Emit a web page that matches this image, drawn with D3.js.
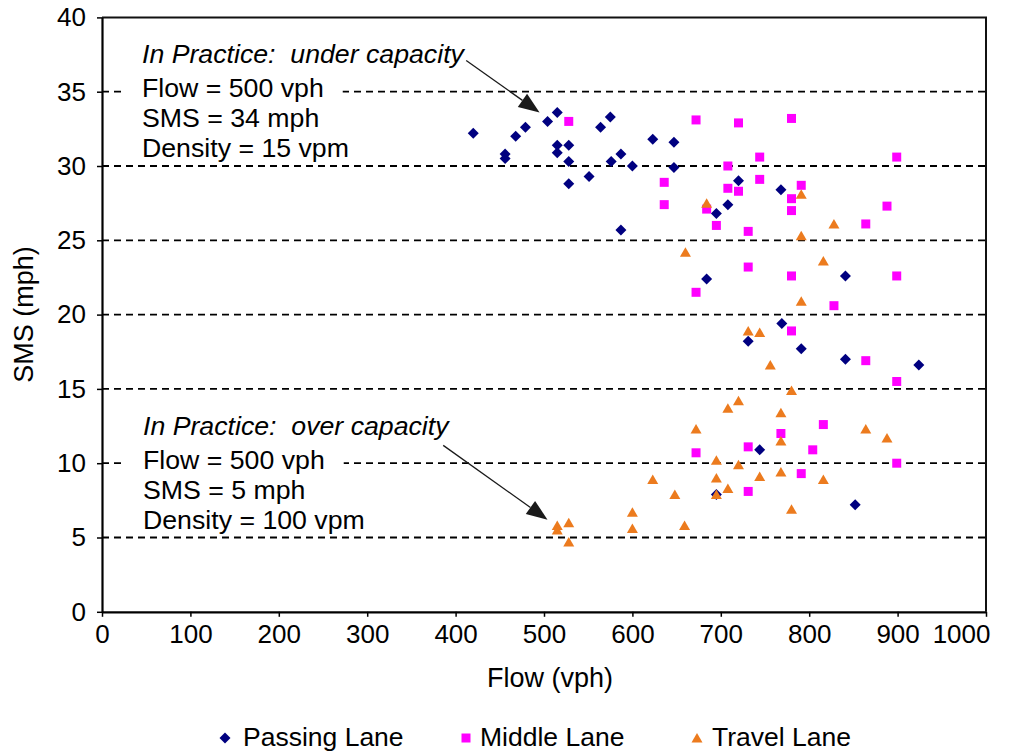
<!DOCTYPE html>
<html><head><meta charset="utf-8">
<script src="https://cdn.jsdelivr.net/npm/d3@7"></script>
<style>
html,body{margin:0;padding:0;background:#fff;}
text{font-family:"Liberation Sans",Arial,sans-serif;fill:#000;white-space:pre;}
</style></head>
<body><svg id="chart" width="1019" height="751"></svg>
<script>
// ---- data ----
const xTicks = [0,100,200,300,400,500,600,700,800,900,1000];
const yTicks = [0,5,10,15,20,25,30,35,40];
const gridValues = [5,10,15,20,25,30,35];
const seriesNames = ["Passing Lane","Middle Lane","Travel Lane"];
const passingLane = [
 [420,32.2],[456,30.8],[456,30.5],[468,32.0],[479,32.6],[504,33.0],[515,33.6],[515,31.4],[515,30.9],
 [528,31.4],[528,30.3],[528,28.8],[551,29.3],[564,32.6],[575,33.3],[576,30.3],[587,30.8],[600,30.0],
 [623,31.8],[647,31.6],[647,29.9],[587,25.7],[720,29.0],[768,28.4],[708,27.4],[695,26.8],[684,22.4],
 [841,22.6],[769,19.4],[731,18.2],[791,17.7],[841,17.0],[924,16.6],[744,10.9],[695,7.9],[852,7.2]
];
const middleLane = [
 [528,33.0],[672,33.1],[720,32.9],[780,33.2],[744,30.6],[899,30.6],[708,30.0],[636,28.9],[744,29.1],
 [791,28.7],[708,28.5],[720,28.3],[780,27.8],[636,27.4],[780,27.0],[684,27.1],[888,27.3],[695,26.0],
 [731,25.6],[864,26.1],[731,23.2],[780,22.6],[899,22.6],[672,21.5],[828,20.6],[780,18.9],[864,16.9],
 [899,15.5],[816,12.6],[768,12.0],[731,11.1],[804,10.9],[672,10.7],[899,10.0],[791,9.3],[731,8.1]
];
const travelLane = [
 [684,27.5],[791,28.1],[828,26.1],[791,25.3],[660,24.2],[816,23.6],[791,20.9],[731,18.9],[744,18.8],
 [756,16.6],[780,14.9],[720,14.2],[708,13.7],[768,13.4],[672,12.3],[768,11.5],[864,12.3],[888,11.7],
 [695,10.2],[720,9.9],[623,8.9],[695,9.0],[744,9.1],[768,9.4],[816,8.9],[708,8.3],[695,7.9],[648,7.9],
 [780,6.9],[600,6.7],[528,6.0],[515,5.8],[515,5.5],[600,5.6],[659,5.8],[528,4.7]
];
const noteUnder = ["In Practice:  under capacity","Flow = 500 vph","SMS = 34 mph","Density = 15 vpm"];
const noteOver = ["In Practice:  over capacity","Flow = 500 vph","SMS = 5 mph","Density = 100 vpm"];
const arrowUnder = [[412,37.1],[495,33.6]];
const arrowOver = [[386,11.2],[504,6.2]];

// ---- layout ----
const svg = d3.select("#chart");
const L=102, R=986, T=17.4, B=611.8;
const x = d3.scaleLinear().domain([0,1000]).range([L,R]);
const y = d3.scaleLinear().domain([0,40]).range([B,T]);
const colors = ["#000080","#FF00FF","#EC7B1E"];
const FS = 26, NFS = 26.7;

// gridlines
svg.append("g").selectAll("line").data(gridValues).join("line")
  .attr("x1",L).attr("x2",R).attr("y1",d=>y(d)).attr("y2",d=>y(d))
  .attr("stroke","#000").attr("stroke-width",1.8).attr("stroke-dasharray","7,5");

// annotations (white backgrounds break gridlines)
function note(lines, x0, baselines){
  const g = svg.append("g");
  lines.forEach((t,i)=>{
    const tx = g.append("text").attr("x",x0).attr("y",baselines[i])
      .attr("font-size",NFS).attr("font-style", i===0?"italic":"normal").text(t);
    const bb = tx.node().getBBox();
    g.insert("rect","text").attr("x",bb.x-19).attr("y",baselines[i]-20)
      .attr("width",bb.width+38).attr("height",26).attr("fill","#fff");
  });
}
note(noteUnder, 142, [62.5, 96.5, 126.5, 156.5]);
note(noteOver, 143, [434.5, 469, 499, 529]);

// arrows
function arrow(a){
  const [p0,p1] = a.map(d=>[x(d[0]),y(d[1])]);
  const ang = Math.atan2(p1[1]-p0[1], p1[0]-p0[0]);
  const len = 21, hw = 8;
  const bx = p1[0]-len*Math.cos(ang), by = p1[1]-len*Math.sin(ang);
  svg.append("line").attr("x1",p0[0]).attr("y1",p0[1]).attr("x2",bx).attr("y2",by)
    .attr("stroke","#1a1a1a").attr("stroke-width",1.3);
  const nx=-Math.sin(ang), ny=Math.cos(ang);
  svg.append("path").attr("d",`M${p1[0]},${p1[1]}L${bx+nx*hw},${by+ny*hw}L${bx-nx*hw},${by-ny*hw}Z`)
    .attr("fill","#1a1a1a");
}
arrow(arrowUnder); arrow(arrowOver);

// markers
const shapes = [
  s=>`M0,${-5.5}L5.5,0L0,5.5L-5.5,0Z`,
  s=>`M-4.5,-4.5H4.5V4.5H-4.5Z`,
  s=>`M0,-5L5.5,4.5H-5.5Z`
];
[passingLane, middleLane, travelLane].forEach((data,i)=>{
  svg.append("g").selectAll("path").data(data).join("path")
    .attr("transform",d=>`translate(${x(d[0])},${y(d[1])})`)
    .attr("d",shapes[i]()).attr("fill",colors[i]);
});

// plot frame (top/right)
svg.append("path").attr("d",`M${L},${T}H${R}V${B}`).attr("fill","none")
  .attr("stroke","#111").attr("stroke-width",2);

// axes
const xAxis = svg.append("g").attr("transform",`translate(0,${B})`)
  .call(d3.axisBottom(x).tickValues(xTicks).tickFormat(d3.format("d")).tickSize(5).tickPadding(8).tickSizeOuter(0));
const yAxis = svg.append("g").attr("transform",`translate(${L},0)`)
  .call(d3.axisLeft(y).tickValues(yTicks).tickFormat(d3.format("d")).tickSize(5).tickPadding(11).tickSizeOuter(0));
[xAxis,yAxis].forEach(a=>{
  a.select(".domain").attr("stroke","#000").attr("stroke-width",2.2);
  a.selectAll(".tick line").attr("stroke","#000").attr("stroke-width",1.5);
  a.selectAll(".tick text").attr("font-size",FS).attr("font-family","Liberation Sans, Arial, sans-serif").attr("fill","#000");
});
// last x label is pulled inside the chart area, as in the reference
xAxis.selectAll(".tick text").filter(d=>d===1000).attr("text-anchor","end").attr("dx",4);

// axis titles
svg.append("text").attr("x",550).attr("y",687).attr("text-anchor","middle")
  .attr("font-size",27).text("Flow (vph)");
svg.append("text").attr("transform",`translate(33,${(T+B)/2}) rotate(-90)`).attr("text-anchor","middle")
  .attr("font-size",27).text("SMS (mph)");

// legend
const legX = [225,466,697], legTx = [243,480,712];
seriesNames.forEach((n,i)=>{
  svg.append("path").attr("transform",`translate(${legX[i]},738)`).attr("d",shapes[i]()).attr("fill",colors[i]);
  svg.append("text").attr("x",legTx[i]).attr("y",746).attr("font-size",26.5).text(n);
});
</script></body></html>
